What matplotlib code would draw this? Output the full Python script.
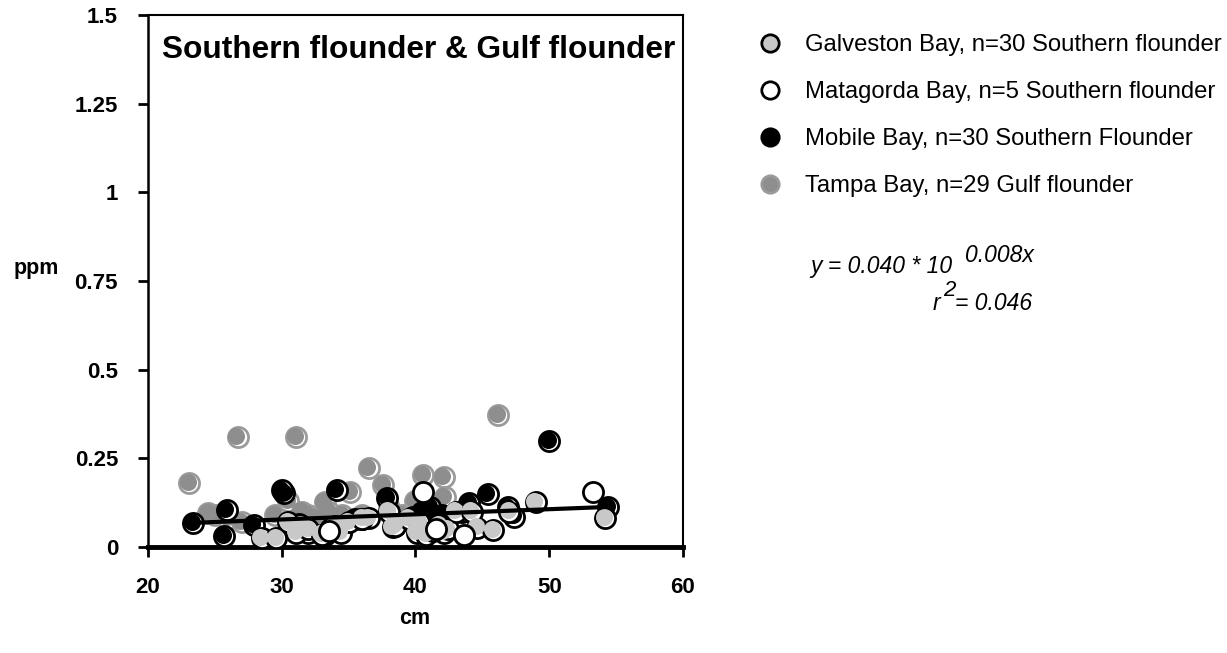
import matplotlib
matplotlib.use('Agg')
import matplotlib.pyplot as plt
from matplotlib.lines import Line2D
from matplotlib.ticker import FixedLocator, FixedFormatter
from matplotlib.transforms import offset_copy

plt.rcParams['font.family'] = ['Liberation Sans', 'DejaVu Sans']

# Galveston Bay, Southern flounder (n=30)
galv_cm = [28.5, 29.6, 31.1, 36.5, 38.3, 44.6, 45.8, 42.1, 34.4, 40.1, 49.0, 54.2,
           31.5, 32.0, 33.0, 34.0, 35.0, 36.0, 38.5, 39.5, 40.3, 40.8, 41.3, 41.8,
           42.4, 43.0, 44.2, 47.0, 38.0, 30.5]
galv_ppm = [0.025, 0.025, 0.04, 0.082, 0.056, 0.054, 0.048, 0.04, 0.04, 0.04, 0.127, 0.082,
            0.06, 0.05, 0.035, 0.06, 0.07, 0.08, 0.06, 0.08, 0.07, 0.035, 0.045, 0.06,
            0.05, 0.10, 0.10, 0.10, 0.10, 0.07]

# Matagorda Bay, Southern flounder (n=5)
mata_cm = [40.6, 53.3, 43.6, 33.5, 41.5]
mata_ppm = [0.155, 0.155, 0.034, 0.045, 0.05]

# Mobile Bay, Southern flounder (n=30)
mob_cm = [23.4, 25.9, 25.7, 30.2, 27.9, 34.1, 37.9, 45.4, 46.9, 44.0, 47.4, 41.1,
          50.0, 54.4, 30.0, 31.0, 31.3, 33.2, 33.6, 34.5, 36.0, 38.5, 39.8, 40.5,
          41.5, 42.2, 43.5, 42.0, 35.5, 32.0]
mob_ppm = [0.068, 0.104, 0.031, 0.152, 0.062, 0.16, 0.138, 0.149, 0.113, 0.124, 0.085, 0.113,
           0.298, 0.113, 0.16, 0.05, 0.065, 0.035, 0.05, 0.05, 0.08, 0.06, 0.085, 0.10,
           0.08, 0.06, 0.10, 0.09, 0.08, 0.04]

# Tampa Bay, Gulf flounder (n=29)
tampa_cm = [26.7, 31.1, 23.1, 24.5, 33.2, 46.2, 36.5, 37.6, 40.6, 42.1, 42.2, 35.1,
            25.0, 26.0, 27.0, 29.5, 30.5, 31.5, 32.0, 32.5, 33.5, 34.5, 35.5, 36.0,
            38.0, 39.0, 40.0, 43.0, 41.0]
tampa_ppm = [0.31, 0.31, 0.18, 0.096, 0.127, 0.372, 0.223, 0.175, 0.203, 0.197, 0.141, 0.155,
             0.09, 0.08, 0.07, 0.09, 0.13, 0.10, 0.09, 0.08, 0.10, 0.09, 0.08, 0.09,
             0.11, 0.09, 0.13, 0.10, 0.09]

# fitted curve
trend_cm = [23.3, 54.4]
trend_ppm = [0.068, 0.113]

y_ticks = [0, 0.25, 0.5, 0.75, 1, 1.25, 1.5]
y_labels = ['0', '0.25', '0.5', '0.75', '1', '1.25', '1.5']
x_ticks = [20, 30, 40, 50, 60]

fig = plt.figure(figsize=(12.27, 6.53), dpi=100)
ax = fig.add_axes([0.1206, 0.1623, 0.436, 0.8147])

# shaded-ball look: outer ring, then the fill nudged up-left leaving a white crescent
shift = offset_copy(ax.transData, fig=fig, x=-1.0, y=1.0, units='points')
def balls(x, y, fill, edge, z):
    ax.scatter(x, y, s=210, c='white', edgecolors=edge, linewidths=2, zorder=z)
    ax.scatter(x, y, s=150, c=fill, linewidths=0, transform=shift, zorder=z + 0.5)

balls(tampa_cm, tampa_ppm, '#8e8e8e', '#9a9a9a', 2)
balls(mob_cm, mob_ppm, 'black', 'black', 3)
balls(galv_cm, galv_ppm, '#c8c8c8', 'black', 4)
ax.scatter(mata_cm, mata_ppm, s=210, c='white', edgecolors='black', linewidths=2, zorder=5)
ax.plot(trend_cm, trend_ppm, color='black', lw=3, zorder=6)

ax.set_xlim(20, 60)
ax.set_ylim(0, 1.5)
ax.xaxis.set_major_locator(FixedLocator(x_ticks))
ax.yaxis.set_major_locator(FixedLocator(y_ticks))
ax.yaxis.set_major_formatter(FixedFormatter(y_labels))
ax.tick_params(direction='out', length=7.5, width=2, labelsize=16, pad=14)
for lab in ax.get_xticklabels() + ax.get_yticklabels():
    lab.set_fontweight('bold')
ax.spines['bottom'].set_linewidth(3.5)
ax.spines['left'].set_linewidth(1.8)
ax.spines['top'].set_linewidth(1.5)
ax.spines['right'].set_linewidth(1.5)

ax.text(0.027, 0.962, 'Southern flounder & Gulf flounder', transform=ax.transAxes,
        fontsize=22.8, fontweight='bold', va='top', ha='left')

fig.text(36 / 1227, 1 - 268 / 653, 'ppm', fontsize=15.5, fontweight='bold', ha='center', va='center')
fig.text(415 / 1227, 1 - 618 / 653, 'cm', fontsize=15.5, fontweight='bold', ha='center', va='center')

handles = [
    Line2D([], [], ls='none', marker='o', ms=12.5, mfc='#c8c8c8', mec='black', mew=2),
    Line2D([], [], ls='none', marker='o', ms=12.5, mfc='white', mec='black', mew=2),
    Line2D([], [], ls='none', marker='o', ms=12.5, mfc='black', mec='black', mew=2),
    Line2D([], [], ls='none', marker='o', ms=12.5, mfc='#8e8e8e', mec='#9a9a9a', mew=2),
]
labels = ['Galveston Bay, n=30 Southern flounder',
          'Matagorda Bay, n=5 Southern flounder',
          'Mobile Bay, n=30 Southern Flounder',
          'Tampa Bay, n=29 Gulf flounder']
fig.legend(handles, labels, loc='upper left', bbox_to_anchor=(0.6006, 0.981), frameon=False,
           fontsize=17.2, labelspacing=1.05, handletextpad=0.97, handlelength=1.0)

fig.text(810 / 1227, 1 - 266 / 653, 'y = 0.040 * 10', fontsize=16.5, style='italic', ha='left', va='center')
fig.text(965 / 1227, 1 - 256 / 653, '0.008x', fontsize=16.5, style='italic', ha='left', va='center')
fig.text(933 / 1227, 1 - 303 / 653, 'r', fontsize=16.5, style='italic', ha='left', va='center')
fig.text(943 / 1227, 1 - 290 / 653, '2', fontsize=16, style='italic', ha='left', va='center')
fig.text(955 / 1227, 1 - 303 / 653, '= 0.046', fontsize=16.5, style='italic', ha='left', va='center')

fig.savefig('out.png', dpi=100)
